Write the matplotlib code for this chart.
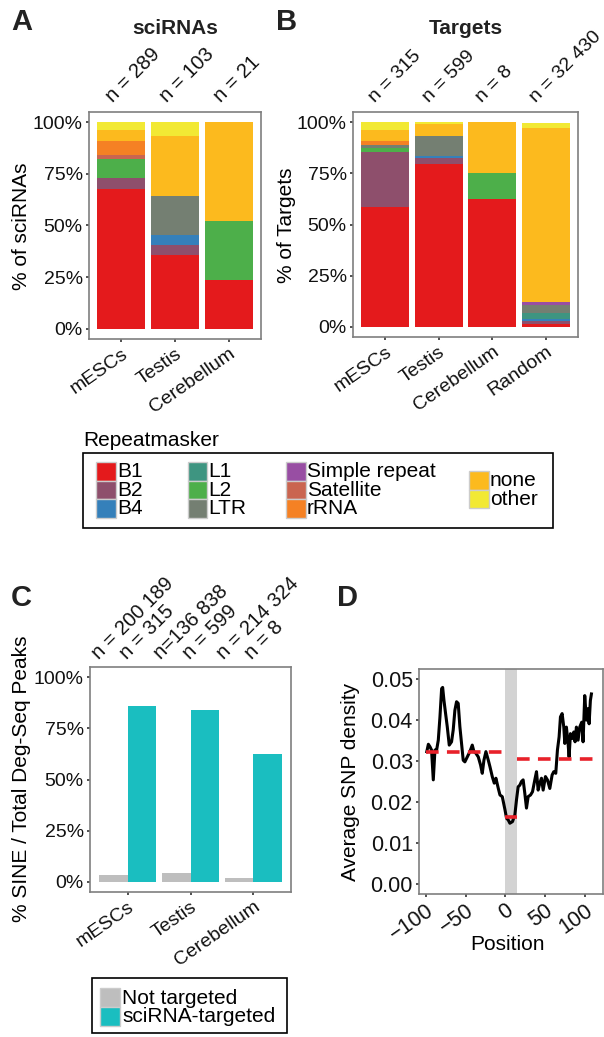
import numpy as np
import matplotlib.pyplot as plt
from matplotlib.patches import Rectangle

plt.rcParams['font.family'] = ['Liberation Sans', 'DejaVu Sans']

W, H = 604, 1037

# repeat classes (stack order bottom -> top)
repeat_classes = ['B1', 'B2', 'B4', 'L1', 'L2', 'LTR', 'Simple repeat',
                  'Satellite', 'rRNA', 'none', 'other']
repeat_colors = ['#E41A1C', '#8E4F6C', '#3580BA', '#3E9581', '#4DAF4A', '#747F72',
                 '#984EA3', '#CA6550', '#F58124', '#FCBA1E', '#F2E934']

# panel A: sciRNAs (counts per class)
sci_samples = ['mESCs', 'Testis', 'Cerebellum']
sci_n = [289, 103, 21]
sci_mescs = [195, 16, 0, 0, 27, 0, 0, 5, 20, 15, 11]
sci_testis = [37, 5, 5, 0, 0, 19, 0, 0, 0, 30, 7]
sci_cereb = [5, 0, 0, 0, 6, 0, 0, 0, 0, 10, 0]

# panel B: targets
tgt_samples = ['mESCs', 'Testis', 'Cerebellum', 'Random']
tgt_n = ['315', '599', '8', '32 430']
tgt_mescs = [185, 84, 0, 0, 6, 5, 0, 0, 6, 17, 12]
tgt_testis = [478, 17, 6, 0, 0, 57, 0, 0, 0, 35, 6]
tgt_cereb = [5, 0, 0, 0, 1, 0, 0, 0, 0, 2, 0]
tgt_random_pct = [1.3, 1.6, 0.8, 2.9, 0, 4.2, 1.1, 0, 0, 85.2, 2.3]

# panel C: % SINE among deg-seq peaks
c_samples = ['mESCs', 'Testis', 'Cerebellum']
c_not_targeted = [3.4, 4.1, 1.9]
c_targeted = [85.7, 83.8, 62.5]
c_n_not = ['n = 200 189', 'n=136 838', 'n = 214 324']
c_n_tgt = ['n = 315', 'n = 599', 'n = 8']

# panel D: SNP density profile
d_pos = [-99, -97, -95, -93, -90.8, -88.7, -86.6, -84.5, -82.4, -80.3, -79, -77.4, -75.3,
         -73.2, -70.7, -67.8, -65.7, -63.6, -61.5, -59.4, -57.3, -55.2, -53.1, -51, -48,
         -44.7, -41.7, -39.6, -37.1, -34.1, -31.2, -29.1, -27, -24.5, -21.5, -19.4, -16.5,
         -14, -11.9, -8.9, -6.8, -3.9, -0.5, 1.5, 3.6, 5.7, 9, 12, 14, 16.1, 18.2, 20.3,
         22.4, 24.5, 26.6, 28.7, 31.7, 34.2, 37.1, 39.2, 41.3, 43.4, 45.5, 47.6, 50.5, 53,
         56, 58.9, 61, 63.5, 65.6, 67.7, 69.4, 71.5, 73.6, 74.9, 76.9, 79, 80.3, 82, 84.1,
         86.2, 87.8, 89.5, 91.6, 93.7, 96.2, 97.9, 100, 102.1, 103.8, 105.5, 107.1, 108.4]
d_density = [0.0323, 0.0341, 0.0335, 0.0327, 0.0254, 0.0327, 0.0327, 0.0351, 0.0408, 0.0477,
             0.0480, 0.0449, 0.0416, 0.0384, 0.0339, 0.0347, 0.0376, 0.0424, 0.0445, 0.0441,
             0.0384, 0.0343, 0.0302, 0.0298, 0.0310, 0.0323, 0.0339, 0.0323, 0.0319, 0.0310,
             0.0290, 0.0270, 0.0302, 0.0323, 0.0302, 0.0286, 0.0262, 0.0246, 0.0258, 0.0233,
             0.0217, 0.0213, 0.0181, 0.0160, 0.0156, 0.0148, 0.0152, 0.0169, 0.0205, 0.0237,
             0.0241, 0.0250, 0.0254, 0.0221, 0.0185, 0.0213, 0.0217, 0.0225, 0.0254, 0.0274,
             0.0229, 0.0246, 0.0258, 0.0229, 0.0262, 0.0254, 0.0233, 0.0266, 0.0274, 0.0270,
             0.0327, 0.0359, 0.0408, 0.0416, 0.0383, 0.0343, 0.0383, 0.0343, 0.0310, 0.0367,
             0.0355, 0.0371, 0.0347, 0.0383, 0.0351, 0.0383, 0.0395, 0.0347, 0.0460, 0.0400,
             0.0428, 0.0391, 0.0448, 0.0464]
d_seg_start = [-100, 0, 15]
d_seg_end = [0, 15, 115]
d_seg_mean = [0.0322, 0.0164, 0.0305]
d_shade = (0, 15)

FRAME = '#7F7F7F'
TICK = '#333333'

fig = plt.figure(figsize=(W / 100, H / 100), dpi=100)


def px_axes(l, t, r, b):
    return fig.add_axes([l / W, 1 - b / H, (r - l) / W, (b - t) / H])


def style(ax, labelsize=14):
    for s in ax.spines.values():
        s.set_color(FRAME)
        s.set_linewidth(1.2)
    ax.tick_params(length=2.5, width=1.2, color=TICK, labelsize=labelsize, pad=2,
                   labelcolor='#111111')


def pct_axis(ax):
    ax.set_ylim(-5, 105)
    ax.set_yticks([0, 25, 50, 75, 100])
    ax.set_yticklabels(['0%', '25%', '50%', '75%', '100%'])


def stacked(ax, rows):
    for i, vals in enumerate(rows):
        bottom = 0
        for v, c in zip(vals, repeat_colors):
            if v > 0:
                ax.bar(i + 1, v, bottom=bottom, width=0.9, color=c, linewidth=0)
            bottom += v


def n_labels(ax, xs, labels, dx, dy, size=14.5):
    for x, lab in zip(xs, labels):
        ax.annotate(lab, xy=(x, 1), xycoords=('data', 'axes fraction'),
                    xytext=(dx * 0.72, dy * 0.72), textcoords='offset points',
                    rotation=45, ha='left', va='baseline', rotation_mode='anchor',
                    fontsize=size, annotation_clip=False, color='#111111')


# ---- panel A
axA = px_axes(89, 112, 261, 339)
rowsA = [np.array(r) / n * 100 for r, n in zip([sci_mescs, sci_testis, sci_cereb], sci_n)]
stacked(axA, rowsA)
axA.set_xlim(0.4, 3.6)
pct_axis(axA)
axA.set_xticks([1, 2, 3])
axA.set_xticklabels(sci_samples, rotation=35, ha='right', rotation_mode='anchor')
style(axA)
n_labels(axA, [1, 2, 3], ['n = %d' % n for n in sci_n], -8, 9)

# ---- panel B
axB = px_axes(353, 112, 578, 337)
tgt_counts = [tgt_mescs, tgt_testis, tgt_cereb]
rowsB = [np.array(r) / sum(r) * 100 for r in tgt_counts] + [np.array(tgt_random_pct)]
stacked(axB, rowsB)
axB.set_xlim(0.4, 4.6)
pct_axis(axB)
axB.set_xticks([1, 2, 3, 4])
axB.set_xticklabels(tgt_samples, rotation=35, ha='right', rotation_mode='anchor')
style(axB)
n_labels(axB, [1, 2, 3, 4], ['n = ' + n for n in tgt_n], -10, 9, size=14)

# ---- panel C
axC = px_axes(90, 667, 291, 892)
xc = np.arange(1, 4)
axC.bar(xc - 0.225, c_not_targeted, width=0.45, color='#BEBEBE', linewidth=0)
axC.bar(xc + 0.225, c_targeted, width=0.45, color='#1ABEC0', linewidth=0)
axC.set_xlim(0.4, 3.6)
pct_axis(axC)
axC.set_xticks(xc)
axC.set_xticklabels(c_samples, rotation=35, ha='right', rotation_mode='anchor')
style(axC)
c_pos, c_labs = [], []
for i in range(3):
    c_pos += [xc[i] - 0.225, xc[i] + 0.225]
    c_labs += [c_n_not[i], c_n_tgt[i]]
n_labels(axC, c_pos, c_labs, -15, 7)

# ---- panel D
axD = px_axes(419, 669, 603, 894)
axD.axvspan(d_shade[0], d_shade[1], color='#D3D3D3', linewidth=0, zorder=0)
axD.plot(d_pos, d_density, color='black', linewidth=2.2, zorder=2)
for s0, s1, m in zip(d_seg_start, d_seg_end, d_seg_mean):
    axD.plot([s0, s1], [m, m], color='#E8212A', linewidth=2.6,
             dashes=(3.5, 2.3), zorder=3)
axD.set_xlim(-108.8, 123)
axD.set_ylim(-0.0025, 0.0525)
axD.set_yticks([0, 0.01, 0.02, 0.03, 0.04, 0.05])
axD.set_yticklabels(['0.00', '0.01', '0.02', '0.03', '0.04', '0.05'])
axD.set_xticks([-100, -50, 0, 50, 100])
axD.set_xticklabels(['\u2212100', '\u221250', '0', '50', '100'],
                    rotation=35, ha='right', rotation_mode='anchor')
style(axD, labelsize=15.5)

# ---- overlay: titles, labels, legends
ov = fig.add_axes([0, 0, 1, 1])
ov.set_xlim(0, W)
ov.set_ylim(H, 0)
ov.axis('off')

for letter, x, y in [('A', 11, 22), ('B', 276, 22), ('C', 11, 598), ('D', 337, 598)]:
    ov.text(x, y, letter, fontsize=21, fontweight='bold', ha='left', va='center',
            color='#222222')
ov.text(175, 28, 'sciRNAs', fontsize=15, fontweight='bold', ha='center', va='center',
        color='#222222')
ov.text(466, 28, 'Targets', fontsize=15, fontweight='bold', ha='center', va='center',
        color='#222222')

ov.text(22, 226, '% of sciRNAs', rotation=90, fontsize=15, ha='center', va='center')
ov.text(287, 225, '% of Targets', rotation=90, fontsize=15, ha='center', va='center')
ov.text(22, 779, '% SINE / Total Deg-Seq Peaks', rotation=90, fontsize=15,
        ha='center', va='center')
ov.text(350, 782, 'Average SNP density', rotation=90, fontsize=15,
        ha='center', va='center')
ov.text(507, 945, 'Position', fontsize=15, ha='center', va='center')

# repeatmasker legend
ov.text(83, 440, 'Repeatmasker', fontsize=15, ha='left', va='center')
ov.add_patch(Rectangle((83, 453), 470, 75, fill=False, edgecolor='black', linewidth=1.2))
legend_cols = [(96, 462, [0, 1, 2]), (187.5, 462, [3, 4, 5]),
               (286, 462, [6, 7, 8]), (469, 471, [9, 10])]
kh = 18.5
for kx, ky, idx in legend_cols:
    for j, k in enumerate(idx):
        y0 = ky + j * kh
        ov.add_patch(Rectangle((kx, y0), 19.5, kh, facecolor=repeat_colors[k],
                               edgecolor='#CCCCCC', linewidth=1))
        ov.text(kx + 21, y0 + kh / 2 + 0.5, repeat_classes[k], fontsize=15,
                ha='left', va='center')

# panel C legend
ov.add_patch(Rectangle((92, 978), 195, 55, fill=False, edgecolor='black', linewidth=1.2))
for j, (lab, col) in enumerate([('Not targeted', '#BEBEBE'),
                                ('sciRNA-targeted', '#1ABEC0')]):
    y0 = 988 + j * 19
    ov.add_patch(Rectangle((100, y0), 20, 19, facecolor=col, edgecolor='#CCCCCC',
                           linewidth=1))
    ov.text(122.5, y0 + 10, lab, fontsize=15, ha='left', va='center')

fig.savefig('out.png', dpi=100)
